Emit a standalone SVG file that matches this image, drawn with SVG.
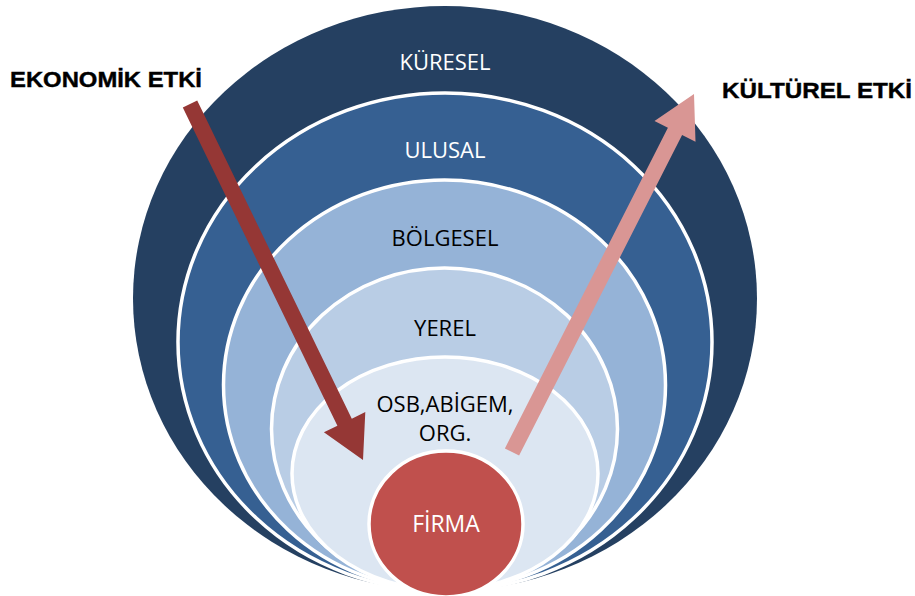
<svg xmlns="http://www.w3.org/2000/svg" width="915" height="596" viewBox="0 0 915 596">
<style>
.ring{stroke:#ffffff;stroke-width:3.5}
.lbl{font-family:"Open Sans","Liberation Sans",sans-serif;font-size:22px;text-anchor:middle}
.w{fill:#ffffff}
.k{fill:#000000}
.big{font-family:"Liberation Sans",Arial,sans-serif;font-weight:bold;font-size:21.5px;fill:#000000;stroke:#000000;stroke-width:0.4}
</style>
<rect width="915" height="596" fill="#ffffff"/>
<g id="kuresel">
<ellipse cx="445" cy="298.5" rx="312" ry="292.5" fill="#254061"/>
<text class="lbl w" x="445" y="70">KÜRESEL</text>
</g>
<g id="ulusal">
<ellipse class="ring" cx="445" cy="342" rx="267" ry="249" fill="#366092"/>
<text class="lbl w" x="445" y="158">ULUSAL</text>
</g>
<g id="bolgesel">
<ellipse class="ring" cx="444.5" cy="385" rx="221" ry="205" fill="#95B3D7"/>
<text class="lbl k" x="445" y="246">BÖLGESEL</text>
</g>
<g id="yerel">
<ellipse class="ring" cx="444.5" cy="429" rx="173" ry="161" fill="#B9CDE5"/>
<text class="lbl k" x="445" y="336">YEREL</text>
</g>
<g id="osb">
<ellipse class="ring" cx="445" cy="473.5" rx="153" ry="116.5" fill="#DCE6F2"/>
<text class="lbl k" x="445" y="412">OSB,ABİGEM,</text>
<text class="lbl k" x="445" y="441">ORG.</text>
</g>
<g id="firma">
<ellipse class="ring" cx="446" cy="524" rx="77" ry="73" fill="#C0504D"/>
<text class="lbl w" x="446" y="532" style="font-size:23px">FİRMA</text>
</g>
<g id="connectors">
<polygon fill="#953735" points="197.2,100.5 351.8,418.7 365.3,412.1 363,460 323.9,432.3 337.4,425.7 182.8,107.5"/>
<polygon fill="#D99694" points="519.1,455.6 682.1,135 695.5,141.8 694,94 654.5,121 667.9,127.8 504.9,448.4"/>
</g>
<g id="ekonomik">
<text class="big" x="10" y="87" textLength="192" lengthAdjust="spacingAndGlyphs">EKONOMİK ETKİ</text>
</g>
<g id="kulturel">
<text class="big" x="722" y="98" textLength="190" lengthAdjust="spacingAndGlyphs">KÜLTÜREL ETKİ</text>
</g>
</svg>
